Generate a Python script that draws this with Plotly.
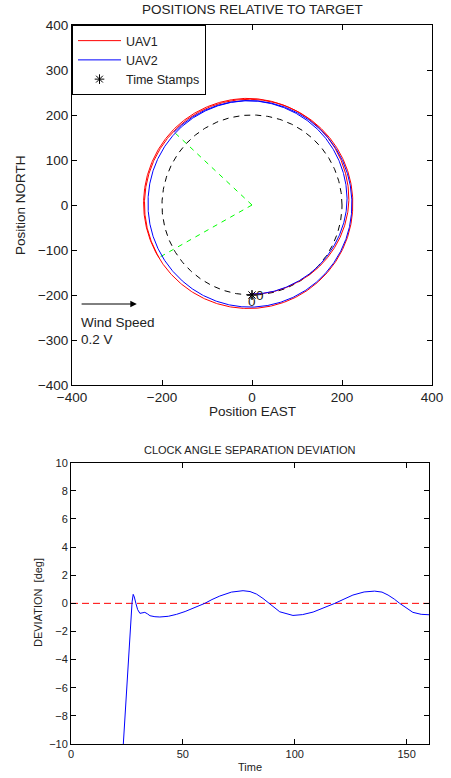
import numpy as np
import plotly.graph_objects as go

# ---------------- data ----------------
# Target orbit
target_radius = 200
# Orbit centre offset (drift due to wind)
orbit_center = (-5.0, 2.0)

# UAV trajectories: clock angle (deg, counter-clockwise from East) vs orbit radius
uav1_angle = [-90, -60, -30, 0, 45, 90, 135, 180, 225, 270, 315, 360, 405, 450, 495, 540, 570.5]
uav1_radius = [200, 203, 211, 220, 229, 235, 237, 236, 234, 232, 230, 229, 231, 233, 234, 234, 234]
uav2_angle = [-90, -60, -30, 0, 45, 90, 135, 180, 225, 270, 315, 360, 405, 450, 496.4]
uav2_radius = [200, 202, 208, 216, 224, 230, 229, 226, 227, 229, 228, 227, 228, 230, 232]

# Time stamps
stamp_east = [0, 0]
stamp_north = [-200, -200]
stamp_labels = ["0", "0"]

# Wind annotation
wind_from = (-382, -220)
wind_to = (-256, -220)
wind_text = ["Wind Speed", "0.2 V"]

# Clock angle separation deviation
time = [23.0, 25.0, 26.5, 27.3, 27.8, 28.3, 29.0, 29.8, 30.8, 32.0, 33.0, 34.2, 35.3, 37.5, 39.7,
        43.5, 47.2, 51.0, 54.6, 59.8, 63.0, 66.5, 71.7, 76.9, 80.0, 82.9, 85.8, 88.5,
        93.3, 99.2, 103.5, 108.2, 113.0, 117.9, 122.0, 126.0, 131.0, 135.7, 139.0,
        141.7, 144.5, 146.9, 152.8, 156.5, 160.0]
deviation = [-11.0, -6.0, -1.6, 0.1, 0.64, 0.45, 0.0, -0.45, -0.71, -0.66, -0.64, -0.75, -0.88, -0.95, -0.97,
             -0.92, -0.78, -0.58, -0.36, 0.0, 0.27, 0.52, 0.80, 0.90, 0.84, 0.66, 0.35, 0.0,
             -0.60, -0.86, -0.80, -0.62, -0.33, 0.0, 0.30, 0.59, 0.81, 0.87, 0.80,
             0.59, 0.30, 0.0, -0.64, -0.78, -0.81]

# ---------------- geometry helpers ----------------
def trajectory(angles, radii, center):
    th = np.linspace(angles[0], angles[-1], int((angles[-1] - angles[0]) * 2) + 1)
    r = np.interp(th, angles, radii)
    rad = np.deg2rad(th)
    return center[0] + r * np.cos(rad), center[1] + r * np.sin(rad)

x1, y1 = trajectory(uav1_angle, uav1_radius, orbit_center)
x2, y2 = trajectory(uav2_angle, uav2_radius, orbit_center)
tt = np.deg2rad(np.linspace(0, 360, 361))
xc, yc = target_radius * np.cos(tt), target_radius * np.sin(tt)

FONT = "Liberation Sans, Arial, Helvetica, sans-serif"
TXT = "#222"
F_TOP = 13.5
F_BOT = 11

fig = go.Figure()

# target circle
fig.add_trace(go.Scatter(x=xc, y=yc, mode="lines", line=dict(color="black", width=1, dash="6px,5px"),
                         showlegend=False, hoverinfo="skip", xaxis="x", yaxis="y"))
# green separation lines
for (xe, ye) in [(x1[-1], y1[-1]), (x2[-1], y2[-1])]:
    fig.add_trace(go.Scatter(x=[0, xe], y=[0, ye], mode="lines",
                             line=dict(color="#00ff00", width=1, dash="5px,5px"),
                             showlegend=False, hoverinfo="skip", xaxis="x", yaxis="y"))
fig.add_trace(go.Scatter(x=x1, y=y1, mode="lines", name="UAV1", line=dict(color="#ff0000", width=1),
                         xaxis="x", yaxis="y"))
fig.add_trace(go.Scatter(x=x2, y=y2, mode="lines", name="UAV2", line=dict(color="#0000ff", width=1),
                         xaxis="x", yaxis="y"))
fig.add_trace(go.Scatter(x=stamp_east, y=stamp_north, mode="markers", name="Time Stamps",
                         marker=dict(symbol="asterisk-open", size=8, color="black",
                                     line=dict(color="black", width=1)),
                         xaxis="x", yaxis="y"))

# deviation plot
fig.add_trace(go.Scatter(x=[0, 160], y=[0, 0], mode="lines",
                         line=dict(color="#ff0000", width=1, dash="7px,4px"),
                         showlegend=False, xaxis="x2", yaxis="y2"))
fig.add_trace(go.Scatter(x=time, y=deviation, mode="lines", line=dict(color="#0000ff", width=1),
                         showlegend=False, xaxis="x2", yaxis="y2"))

axis_common = dict(showline=True, linecolor="black", linewidth=1, mirror="allticks",
                   ticks="inside", ticklen=5, tickcolor="black", showgrid=False, zeroline=False,
                   automargin=False)

W, H = 451, 778
ml, mr, mt, mb = 71, 19, 25, 34
pw, ph = W - ml - mr, H - mt - mb

def clamp(v):
    return max(0.0, min(1.0, v))

def px_x(px):
    return (px - ml) / pw

def px_y(py):
    return (H - mb - py) / ph

def label(text, x, y, size, angle=0):
    return dict(text=text, x=px_x(x), y=px_y(y), xref="paper", yref="paper", textangle=angle,
                showarrow=False, font=dict(size=size, family=FONT, color=TXT),
                xanchor="center", yanchor="middle")

annotations = [
    label("POSITIONS RELATIVE TO TARGET", 252, 10, F_TOP),
    label("Position EAST", 252, 411, F_TOP),
    label("Position NORTH", 20, 205, F_TOP, -90),
    label("CLOCK ANGLE SEPARATION DEVIATION", 250, 450, F_BOT),
    label("DEVIATION  [deg]", 38, 603, F_BOT, -90),
    label("Time", 250, 767, F_BOT),
]
# wind arrow
annotations.append(dict(x=wind_to[0], y=wind_to[1], ax=wind_from[0], ay=wind_from[1], xref="x", yref="y",
                        axref="x", ayref="y", showarrow=True, arrowhead=2, arrowsize=1.3, arrowwidth=1,
                        arrowcolor="black", text=""))
for i, t in enumerate(wind_text):
    annotations.append(dict(text=t, x=wind_from[0] - 3, y=[-261, -298][i], xref="x", yref="y", showarrow=False,
                            xanchor="left", yanchor="middle", font=dict(size=F_TOP, family=FONT, color=TXT)))
# time stamp labels
annotations.append(dict(text=stamp_labels[0], x=stamp_east[0], y=stamp_north[0], xref="x", yref="y", showarrow=False,
                        xanchor="left", yanchor="middle", xshift=2, font=dict(size=F_TOP, family=FONT, color=TXT)))
annotations.append(dict(text=stamp_labels[1], x=stamp_east[1], y=stamp_north[1], xref="x", yref="y", showarrow=False,
                        xanchor="center", yanchor="top", yshift=3, font=dict(size=F_TOP, family=FONT, color=TXT)))

fig.update_layout(
    width=W, height=H, template="none",
    margin=dict(l=ml, r=mr, t=mt, b=mb, pad=0),
    paper_bgcolor="white", plot_bgcolor="white",
    font=dict(family=FONT, color=TXT),
    xaxis=dict(domain=[clamp(px_x(72)), clamp(px_x(432))], range=[-400, 400], tickvals=[-400, -200, 0, 200, 400],
               tickfont=dict(size=F_TOP), anchor="y", **axis_common),
    yaxis=dict(domain=[clamp(px_y(385)), clamp(px_y(25))], range=[-400, 400], tickvals=list(range(-400, 401, 100)),
               tickfont=dict(size=F_TOP), anchor="x", **axis_common),
    xaxis2=dict(domain=[clamp(px_x(71)), clamp(px_x(429))], range=[0, 160], tickvals=[0, 50, 100, 150],
                tickfont=dict(size=F_BOT), anchor="y2", **axis_common),
    yaxis2=dict(domain=[clamp(px_y(744)), clamp(px_y(462.7))], range=[-10, 10], tickvals=list(range(-10, 11, 2)),
                tickfont=dict(size=F_BOT), anchor="x2", **axis_common),
    legend=dict(x=clamp(px_x(72)), y=clamp(px_y(25)), xref="paper", yref="paper", xanchor="left", yanchor="top",
                bordercolor="black", borderwidth=1, bgcolor="white", itemwidth=43,
                font=dict(size=12.5, family=FONT, color=TXT), tracegroupgap=0),
    annotations=annotations,
    showlegend=True,
)

fig.write_html("out.html", config={"displayModeBar": False},
               post_script="document.body.style.margin='0';document.body.style.overflow='hidden';")
